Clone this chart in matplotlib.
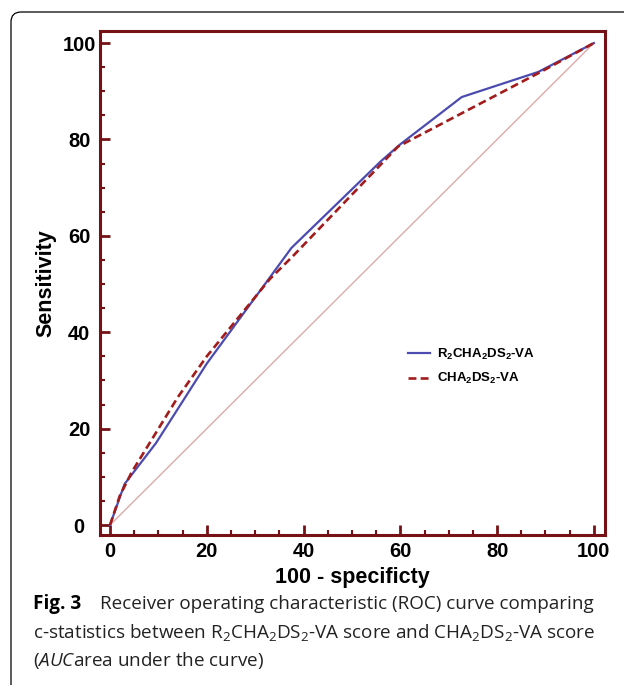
import matplotlib
matplotlib.use("Agg")
import matplotlib.pyplot as plt
from matplotlib.patches import FancyBboxPatch
from matplotlib.transforms import IdentityTransform
from matplotlib.ticker import MultipleLocator

plt.rcParams['mathtext.fontset'] = 'custom'
plt.rcParams['mathtext.rm'] = 'Open Sans'
plt.rcParams['mathtext.it'] = 'Open Sans:italic'
plt.rcParams['mathtext.bf'] = 'Open Sans:bold'

# Data (100 - specificity, sensitivity)
fpr_r2 = [0, 3, 9.5, 20, 37.5, 56, 60, 72.7, 88.5, 100]
sens_r2 = [0, 8.5, 17, 33.5, 57.5, 75.5, 79, 88.8, 94, 100]
fpr_c = [0, 2, 4.5, 14, 20, 33, 38, 59.5, 89, 100]
sens_c = [0, 6, 11, 26.5, 35, 51, 56, 78.5, 94, 100]
ref_x = [0, 100]
ref_y = [0, 100]
ticks = [0, 20, 40, 60, 80, 100]
label_r2 = r'R$_\mathregular{2}$CHA$_\mathregular{2}$DS$_\mathregular{2}$-VA'
label_c = r'CHA$_\mathregular{2}$DS$_\mathregular{2}$-VA'

W, H = 624, 685
fig = plt.figure(figsize=(W / 100, H / 100), dpi=100)
ax = fig.add_axes([100 / W, 1 - 535 / H, 505 / W, 504 / H])

spine_c = '#761216'
ax.plot(ref_x, ref_y, color='#dcaaaa', lw=1.0, zorder=1)
ax.plot(fpr_r2, sens_r2, color='#4b4bb0', lw=1.6, label=label_r2, zorder=3)
ax.plot(fpr_c, sens_c, color='#a31c1c', lw=1.9, ls=(0, (3, 1.6)), label=label_c, zorder=4)

ax.set_xlim(-2.07, 102.3)
ax.set_ylim(-2.07, 102.5)
ax.set_xticks(ticks)
ax.set_yticks(ticks)
ax.xaxis.set_minor_locator(MultipleLocator(5))
ax.yaxis.set_minor_locator(MultipleLocator(5))
ax.tick_params(which='major', direction='in', length=7.2, width=2.0, color=spine_c,
               labelsize=14.5)
ax.tick_params(which='minor', direction='in', length=3.6, width=1.5, color=spine_c)
ax.tick_params(top=False, right=False, which='both')
ax.xaxis.set_tick_params(pad=5)
ax.yaxis.set_tick_params(pad=15)
for lab in ax.get_xticklabels():
    lab.set_fontweight('bold')
    lab.set_family('Liberation Sans')
for lab in ax.get_yticklabels():
    lab.set_fontweight('bold')
    lab.set_family('Liberation Sans')
    lab.set_horizontalalignment('center')
for s in ax.spines.values():
    s.set_color(spine_c)
    s.set_linewidth(2.2)

ax.set_xlabel('100 - specificty', fontsize=15.5, fontweight='bold', family='Liberation Sans', labelpad=4)
ax.set_ylabel('Sensitivity', fontsize=15.5, fontweight='bold', family='Liberation Sans', labelpad=4)

leg = ax.legend(loc='upper left', bbox_to_anchor=((408 - 100) / 505, (535 - 347) / 504),
                frameon=False, borderpad=0, borderaxespad=0,
                prop={'family': 'Liberation Sans', 'weight': 'bold', 'size': 9.5},
                handlelength=1.67, handletextpad=0.55, labelspacing=0.7)

# figure border
border = FancyBboxPatch((11, -30), 700, H - 12 + 30, boxstyle='round,pad=0,rounding_size=10',
                        transform=IdentityTransform(), fill=False, ec='black', lw=0.9)
fig.add_artist(border)

cap_fs = 13.6
fig.text(33 / W, 1 - 609 / H, 'Fig. 3', family='Open Sans', fontweight='bold', fontsize=cap_fs, va='baseline')
fig.text(100 / W, 1 - 609 / H, 'Receiver operating characteristic (ROC) curve comparing',
         family='Open Sans', fontsize=cap_fs, va='baseline', color='#222222')
fig.text(33 / W, 1 - 638 / H, 'c-statistics between ' + label_r2 + ' score and ' + label_c + ' score',
         family='Open Sans', fontsize=cap_fs, va='baseline', color='#222222')
fig.text(33 / W, 1 - 666 / H, r'($\mathit{AUC}$area under the curve)',
         family='Open Sans', fontsize=cap_fs, va='baseline', color='#222222')

fig.savefig('out.png', dpi=100)
